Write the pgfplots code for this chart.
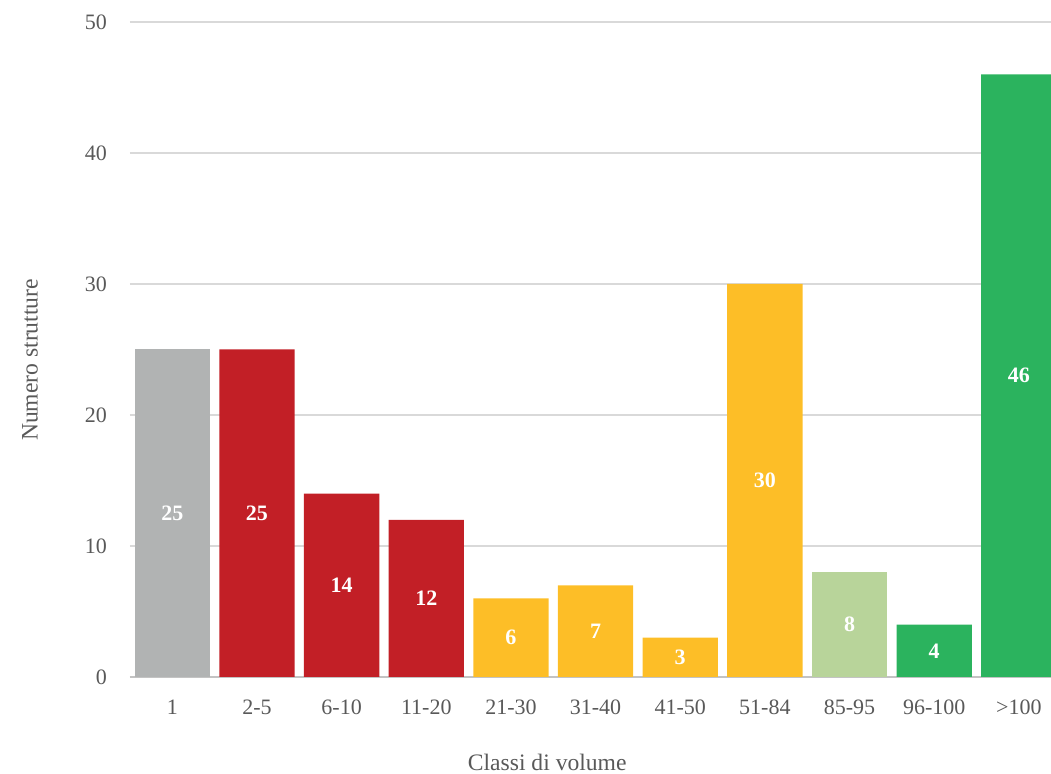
\documentclass[border=0pt]{standalone}
\usepackage{pgfplots}
\pgfplotsset{compat=1.18}
\usepackage{fontspec}
\setmainfont{Liberation Serif}
\definecolor{cgray}{HTML}{B1B3B3}
\definecolor{cred}{HTML}{C21F26}
\definecolor{cyel}{HTML}{FDBE27}
\definecolor{clgreen}{HTML}{B8D49A}
\definecolor{cgreen}{HTML}{2BB35E}
\definecolor{ctext}{HTML}{595959}
\definecolor{cgrid}{HTML}{D9D9D9}
\begin{document}
\begin{tikzpicture}
\begin{axis}[
  name=ax,
  scale only axis,
  width=460.5pt, height=327.5pt,
  xmin=-0.5, xmax=10.38,
  ymin=0, ymax=50,
  ytick={0,10,20,30,40,50},
  xtick={0,1,2,3,4,5,6,7,8,9,10},
  xticklabels={1,2-5,6-10,11-20,21-30,31-40,41-50,51-84,85-95,96-100,>100},
  axis x line*=bottom,
  axis y line*=left,
  y axis line style={draw=none},
  x axis line style={draw=cgrid!90!black, line width=1pt, -},
  major tick length=0pt,
  ymajorgrids,
  grid style={cgrid, line width=1pt},
  /pgf/number format/assume math mode=true,
  tick label style={font=\fontsize{11}{13}\selectfont, text=ctext},
  yticklabel style={xshift=-8pt},
  xticklabel style={yshift=-8pt},
  xlabel={Classi di volume},
  ylabel={Numero strutture},
  label style={font=\fontsize{11.8}{14}\selectfont, text=ctext},
  xlabel style={at={(axis description cs:0.453,0)}, anchor=center, yshift=-42.5pt},
  ylabel style={at={(axis description cs:-0.1086,0.484)}, anchor=center},
  ybar, bar width=0.89, bar shift=0pt,
  clip=true,
]
\addplot[fill=cgray, draw=none] coordinates {(0,25)};
\addplot[fill=cred, draw=none] coordinates {(1,25) (2,14) (3,12)};
\addplot[fill=cyel, draw=none] coordinates {(4,6) (5,7) (6,3) (7,30)};
\addplot[fill=clgreen, draw=none] coordinates {(8,8)};
\addplot[fill=cgreen, draw=none] coordinates {(9,4) (10,46)};
\addplot[draw=none, mark=none, sharp plot,
  nodes near coords, point meta=explicit symbolic,
  every node near coord/.style={anchor=center, text=white, font=\fontsize{11}{13}\selectfont\bfseries}]
  table[x=x, y expr=\thisrow{v}/2, meta=v] {
x v
0 25
1 25
2 14
3 12
4 6
5 7
6 3
7 30
8 8
9 4
10 46
};
\end{axis}
\pgfresetboundingbox
\path[use as bounding box] ([xshift=-65pt,yshift=-48.5pt]ax.south west) rectangle ([yshift=11pt]ax.north east);
\end{tikzpicture}
\end{document}
